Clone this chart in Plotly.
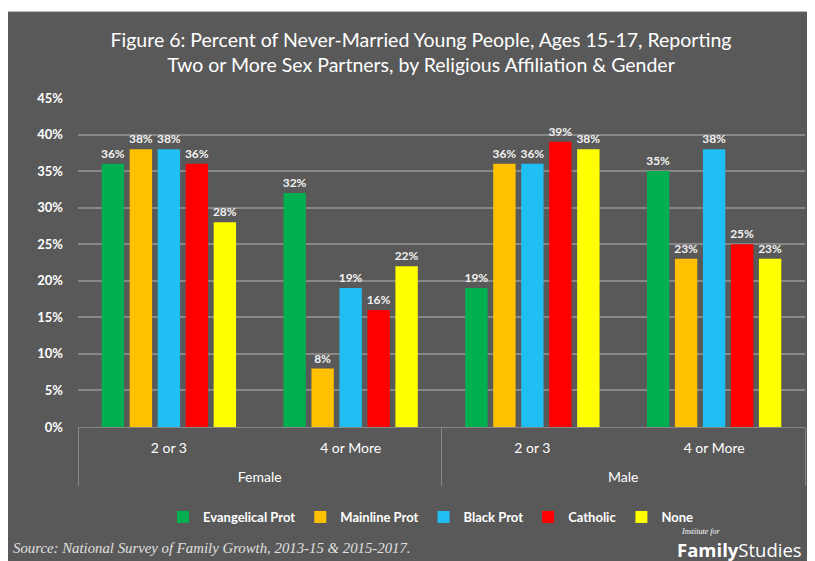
import plotly.graph_objects as go

genders = ["Female", "Female", "Male", "Male"]
partners = ["2 or 3", "4 or More", "2 or 3", "4 or More"]
series_names = ["Evangelical Prot", "Mainline Prot", "Black Prot", "Catholic", "None"]
evangelical = [36, 32, 19, 35]
mainline = [38, 8, 36, 23]
black = [38, 19, 36, 38]
catholic = [36, 16, 39, 25]
none_ = [28, 22, 38, 23]
colors = ["#00B050", "#FFC000", "#20BEF2", "#FF0000", "#FFFF00"]
y_ticks = [0, 5, 10, 15, 20, 25, 30, 35, 40, 45]
y_tick_labels = [f"{v}%" for v in y_ticks]

W, H = 815, 561
OFF = 8  # page body margin offset
# plot area in window pixels: x 78..805, y 98..427
ML = 78 - OFF
MR = W - (805 - OFF)
MT = 98 - OFF
MB = H - (427 - OFF)
PW, PH = W - ML - MR, H - MT - MB

def px_x(px):  # window pixel -> paper x
    return (px - OFF - ML) / PW

def px_y(py):  # window pixel -> paper y
    return (H - MB - (py - OFF)) / PH

BG = "#595959"
FONT = "Lato"

# outer-level labels pushed one line lower to leave room like the reference
gender_labels = ["<br>" + g for g in genders]

fig = go.Figure()
for name, vals, col in zip(series_names, [evangelical, mainline, black, catholic, none_], colors):
    fig.add_trace(go.Bar(
        x=[gender_labels, partners], y=vals, name=name, marker_color=col,
        marker_line_width=0,
        text=[f"{v}%" for v in vals], texttemplate="%{text}",
        textposition="outside", cliponaxis=False, constraintext="none",
        textfont=dict(color="#F2F2F2", size=12, family=FONT, weight="bold"),
    ))

fig.update_layout(
    width=W, height=H,
    margin=dict(l=ML, r=MR, t=MT, b=MB),
    paper_bgcolor="white", plot_bgcolor=BG,
    barmode="group", bargap=0.23, bargroupgap=0.2,
    title=dict(
        text="Figure 6: Percent of Never-Married Young People, Ages 15-17, Reporting<br>Two or More Sex Partners, by Religious Affiliation & Gender",
        xref="container", yref="container",
        x=(421 - OFF) / W, xanchor="center", y=1 - (47 - OFF) / H, yanchor="top",
        font=dict(family=FONT, size=19.5, color="white"),
    ),
    font=dict(family=FONT, color="white"),
    legend=dict(
        orientation="h", x=px_x(431), xanchor="center", y=px_y(517), yanchor="middle",
        font=dict(family=FONT, size=13, color="white", weight="bold"),
        bgcolor="rgba(0,0,0,0)", itemwidth=30, tracegroupgap=0,
    ),
    showlegend=True,
)

fig.update_yaxes(
    range=[0, 45], tickvals=y_ticks, ticktext=y_tick_labels,
    showgrid=True, gridcolor="#878787", gridwidth=2,
    zeroline=False, showline=False,
    tickfont=dict(family=FONT, size=13, color="white", weight="bold"),
    ticklabelstandoff=14,
)
fig.update_xaxes(
    type="multicategory",
    showline=True, linecolor="#878787", linewidth=1,
    showdividers=True, dividercolor="#878787", dividerwidth=1,
    tickfont=dict(family=FONT, size=14, color="white"),
    ticklabelstandoff=8,
)

# dark panel behind everything
fig.add_shape(type="rect", xref="paper", yref="paper", layer="below",
              x0=px_x(5), x1=px_x(W + 20), y0=px_y(12), y1=px_y(H + 20),
              fillcolor=BG, line=dict(color="#6a6a6a", width=1))

fig.add_annotation(
    text="<i>Source: National Survey of Family Growth, 2013-15 & 2015-2017.</i>",
    xref="paper", yref="paper", x=px_x(11), y=px_y(548), xanchor="left", yanchor="middle",
    showarrow=False, font=dict(family="Liberation Serif", size=14.8, color="#E0E0E0"),
)
fig.add_annotation(
    text="<i>Institute for</i>",
    xref="paper", yref="paper", x=px_x(679), y=px_y(531), xanchor="left", yanchor="middle",
    showarrow=False, font=dict(family="Liberation Serif", size=8, color="white"),
)
fig.add_annotation(
    text="<b>Family</b>Studies",
    xref="paper", yref="paper", x=px_x(675), y=px_y(549), xanchor="left", yanchor="middle",
    showarrow=False, font=dict(family="Open Sans", size=18.5, color="white"),
)

fig.write_html("out.html")
